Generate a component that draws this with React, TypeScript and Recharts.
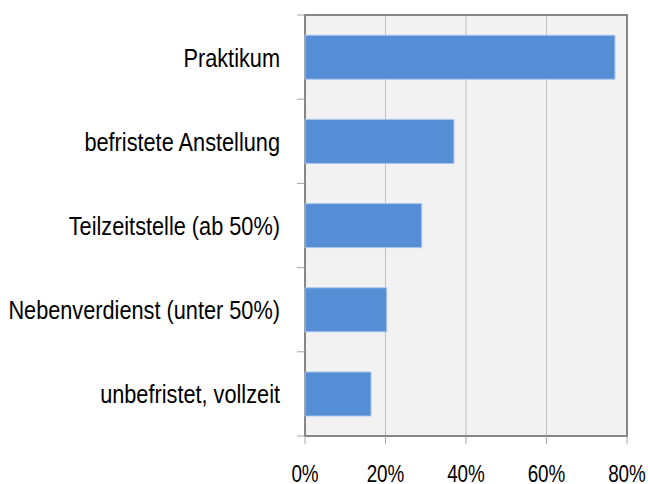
import React from "react";
import { BarChart, Bar, XAxis, YAxis, CartesianGrid, ReferenceArea } from "recharts";

const categories = [
  "Praktikum",
  "befristete Anstellung",
  "Teilzeitstelle (ab 50%)",
  "Nebenverdienst (unter 50%)",
  "unbefristet, vollzeit",
];
const shares = [77, 37, 29, 20.3, 16.4];
const xTicks = [0, 20, 40, 60, 80];

const data = categories.map((c, i) => ({ name: c, value: shares[i] }));

const FONT = "'Liberation Sans', Arial, sans-serif";
const SQUEEZE = 0.82;
const LABEL_GAP = 25;
const TICK_LEN = 8;

function CategoryTick(props: any) {
  const { x, y, payload, index, visibleTicksCount } = props;
  const half = payload && typeof payload.offset === "number" ? payload.offset : 0;
  const lx2 = x + LABEL_GAP;
  const lx1 = lx2 - TICK_LEN;
  const isLast = index === (visibleTicksCount ?? categories.length) - 1;
  return (
    <g>
      <line x1={lx1} x2={lx2} y1={y - half} y2={y - half} stroke="#a6a6a6" strokeWidth={1} />
      {isLast && <line x1={lx1} x2={lx2} y1={y + half} y2={y + half} stroke="#a6a6a6" strokeWidth={1} />}
      <g transform={`translate(${x},${y}) scale(${SQUEEZE},1)`}>
        <text textAnchor="end" dy="0.355em" fontSize={26.5} fontFamily={FONT} fill="#000">
          {payload.value}
        </text>
      </g>
    </g>
  );
}

function PercentTick(props: any) {
  const { x, y, payload } = props;
  return (
    <g transform={`translate(${x},${y}) scale(${SQUEEZE},1)`}>
      <text textAnchor="middle" dy="0.71em" fontSize={23} fontFamily={FONT} fill="#000">
        {`${payload.value}%`}
      </text>
    </g>
  );
}

export default function App() {
  return (
    <div style={{ position: "absolute", left: 0, top: 0, width: 648, height: 484, background: "#fff" }}>
      <BarChart
        width={648}
        height={484}
        data={data}
        layout="vertical"
        margin={{ top: 15, right: 21, bottom: 0, left: 0 }}
        barCategoryGap="24%"
      >
        <CartesianGrid horizontal={false} fill="#f2f2f2" stroke="#bfbfbf" />
        <YAxis
          type="category"
          dataKey="name"
          width={305}
          axisLine={false}
          tickLine={false}
          tickSize={0}
          tickMargin={LABEL_GAP}
          tick={<CategoryTick />}
        />
        <XAxis
          type="number"
          domain={[0, 80]}
          ticks={xTicks}
          height={48}
          tickSize={8}
          tickMargin={22}
          axisLine={{ stroke: "#868686", strokeWidth: 2 }}
          tickLine={{ stroke: "#a6a6a6" }}
          tick={<PercentTick />}
        />
        <Bar dataKey="value" fill="#558ed5" stroke="#a9c5ec" strokeWidth={1} isAnimationActive={false} />
        <ReferenceArea
          x1={0}
          x2={80}
          fill="none"
          fillOpacity={0}
          stroke="#868686"
          strokeWidth={2}
          ifOverflow="visible"
        />
      </BarChart>
    </div>
  );
}
